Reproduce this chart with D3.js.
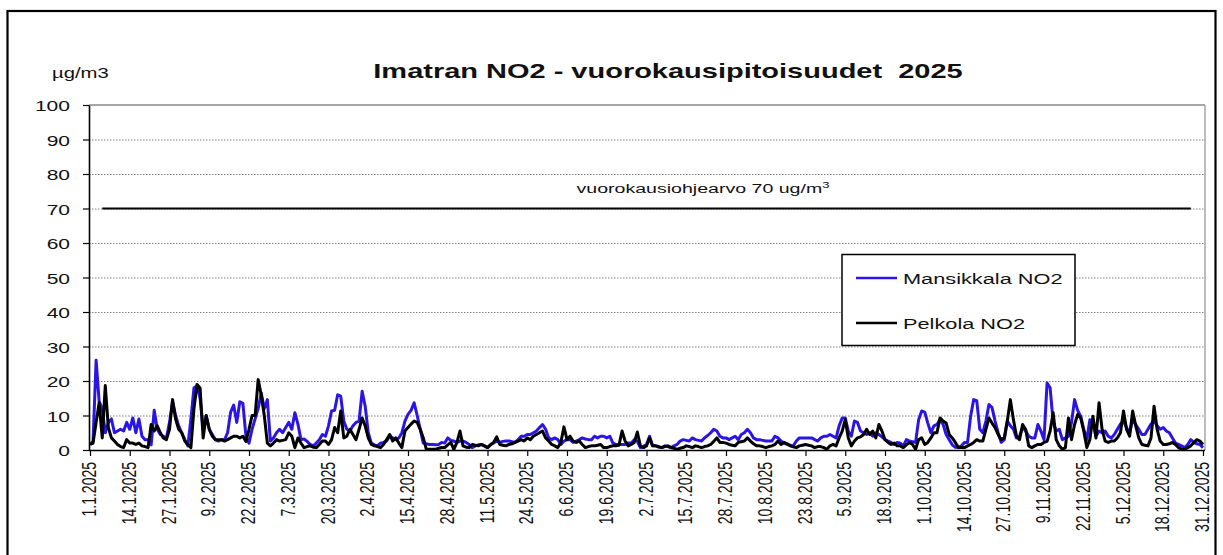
<!DOCTYPE html>
<html>
<head>
<meta charset="utf-8">
<script src="https://cdn.jsdelivr.net/npm/d3@7"></script>
<style>
  body { margin: 0; background: #fff; }
  svg { display: block; }
  text { font-family: "Liberation Sans", Arial, sans-serif; fill: #111; }
</style>
</head>
<body>
<svg id="chart" width="1223" height="555"></svg>
<script>
// daily means 1.1.2025 - 31.12.2025
const mansikkala = [
  1.6, 2.5, 26, 14, 12, 5, 8, 9, 5, 5.5,
  6, 5.5, 8, 6, 9.3, 5, 9, 4, 3, 3,
  1.5, 11.5, 6, 4.5, 4, 3.5, 8, 14, 10, 7,
  5, 3, 1.2, 9, 18, 18.5, 15, 6, 10, 6,
  4.5, 3, 2.6, 3, 3, 5, 11, 13, 8, 14,
  13.5, 4, 2, 6, 9, 12, 16.5, 12, 14.6, 2.6,
  3.5, 5, 6, 5, 6.5, 8, 6, 10.8, 7.5, 3,
  3.2, 2.5, 1.6, 1.2, 2, 3, 4.5, 4, 7, 11.3,
  11.5, 16, 15.6, 8.4, 6, 5.5, 7, 8, 8.4, 17,
  12.7, 5, 2, 1.5, 1.2, 2, 2.2, 2.6, 4, 3.5,
  3, 3.5, 5, 8.4, 10.3, 11.5, 13.7, 10, 6, 2,
  1.8, 1.6, 1.6, 1.5, 1.6, 2.2, 2, 3.5, 2.8, 2.6,
  2.2, 2.6, 2.6, 2.2, 1.6, 0.7, 1.2, 1.5, 1.6, 1.2,
  0.7, 1.6, 2, 2.6, 2.2, 2.5, 2.6, 2.6, 2.4, 2.2,
  3, 4, 4, 4.5, 4.5, 5, 5.5, 6.5, 7.4, 6,
  3.5, 3, 3.5, 3, 1.6, 2.6, 3, 3, 2.2, 2.6,
  3, 3.5, 3.2, 3, 3, 4, 3.5, 4, 4, 3.5,
  4, 2, 1.6, 1.6, 1.6, 1.6, 2, 2, 3, 2.5,
  0.7, 1, 1.6, 4, 1.2, 1.2, 0.8, 0.7, 1.2, 1,
  0.7, 1.2, 1.6, 2.6, 3, 2.8, 2.6, 3.5, 3, 2.8,
  2.6, 3.5, 4.2, 5, 6, 5.5, 4, 3.5, 3.5, 3,
  3.5, 4, 3, 4.5, 5, 6, 5, 3.5, 3, 3,
  2.8, 2.6, 2.6, 2.6, 4, 3.5, 2.6, 2, 1.6, 1.4,
  1.2, 2.6, 3.5, 3.5, 3.5, 3.5, 3.5, 3, 2.6, 3.5,
  4, 4, 4.5, 4, 3.5, 7, 9.3, 9.3, 5.5, 4,
  8.4, 8, 5.5, 5, 4.5, 5, 4, 5, 4.5, 3.8,
  3, 2.6, 2.2, 1.6, 2.2, 2, 1.2, 3, 2.6, 2.4,
  2.2, 8.8, 11.3, 11, 7.8, 5, 7, 7.4, 8.8, 7.4,
  4.5, 3, 1.5, 0.8, 0.7, 1.2, 2.2, 2.2, 9.8, 14.6,
  14.3, 6, 5, 8.4, 13.2, 12.3, 8.4, 5, 2.2, 3,
  8.4, 7, 6, 3.5, 4, 6.5, 5.5, 4, 3.5, 3.5,
  7.4, 5.5, 3, 19.4, 18, 8, 5.5, 6, 3, 3.5,
  4, 8, 14.6, 11.5, 9.8, 6, 3, 8.8, 7.8, 4,
  5.5, 5, 5.5, 4, 3.5, 4.5, 6, 7.5, 8.4, 6.5,
  5, 8.8, 7.4, 6, 4.5, 4.5, 6, 7.5, 8.4, 7,
  6, 6.5, 5.5, 5, 3.5, 2, 1.6, 1.2, 0.7, 1.6,
  3, 2.2, 1.8, 1.6, 0.7
]

const pelkola = [
  1.6, 2, 8, 13.7, 3.5, 18.7, 6.5, 3.5, 2.6, 1.6,
  1, 0.7, 3, 2, 2, 1.6, 2, 1.2, 1, 0.7,
  7.4, 5.5, 7, 5, 3.5, 3, 6, 14.6, 9, 6,
  5, 2.6, 1.6, 0.7, 12, 19, 18, 3.5, 10, 6,
  4, 3, 3, 3, 2.6, 3, 3.5, 4, 4, 3.5,
  4, 2.5, 6, 10, 10, 20.4, 16, 10, 2, 1.2,
  2, 3, 2.6, 2.8, 3, 5, 4, 0.7, 3.5, 2,
  0.7, 1, 1.2, 0.8, 0.7, 1.6, 2.6, 2.6, 1.6, 3,
  6.5, 5, 11.3, 3.5, 4, 6, 4.5, 3, 6, 9.3,
  7, 3.5, 1.6, 1.2, 1, 0.7, 1.6, 3, 4.5, 2.6,
  3.5, 2, 0.7, 5.5, 6.5, 7.5, 8.4, 8, 6, 3.5,
  0.2, 0.2, 0.2, 0.2, 0.5, 0.7, 0.7, 1.5, 2.2, 0.2,
  2.2, 5.5, 1.2, 0.8, 0.7, 1.6, 1.4, 1.2, 1.6, 1.2,
  0.7, 1.5, 2.2, 3.8, 1.6, 1.4, 1.2, 1.6, 1.8, 2.2,
  2.6, 3, 2.6, 3.5, 3, 4, 4.5, 5, 5.5, 3.5,
  2.6, 1.6, 1.2, 0.7, 2.2, 6.7, 3, 4, 2.6, 2.2,
  2.6, 1.6, 0.7, 1, 1.2, 1.2, 1.4, 1.6, 0.7, 0.7,
  1, 1.2, 1.2, 1.4, 5.5, 2.6, 1.2, 1.6, 2.2, 5.2,
  1.2, 0.7, 1.2, 3.5, 1.2, 1.2, 1, 0.7, 1, 1.2,
  0.7, 0.5, 0.2, 0.5, 0.7, 1.2, 1, 0.7, 1.2, 1,
  0.7, 1, 1.2, 1.6, 2.5, 3.5, 2.2, 2.2, 2, 1.6,
  1.4, 1.2, 2.2, 2.4, 2.6, 3.5, 2.6, 1.8, 1.2, 1.2,
  1, 0.7, 1, 1.2, 1.6, 2.6, 1.6, 2.2, 1.8, 1.2,
  0.9, 0.7, 1.2, 1.4, 1.6, 1.4, 1.2, 0.7, 1, 1,
  0.7, 0.2, 1.2, 1.6, 1.2, 3.5, 5.5, 8.8, 3.5, 1.2,
  2.6, 3.5, 3.8, 4.5, 6, 4.5, 5.5, 3.5, 7.4, 5.5,
  3, 2.2, 1.6, 2, 1.2, 1.2, 0.7, 1.5, 2.2, 1.6,
  0.2, 3, 3.5, 1.6, 2.2, 3.5, 5, 5, 9.3, 8.4,
  7.8, 4.5, 3.5, 2.2, 0.7, 0.7, 0.7, 1.2, 1.6, 2.2,
  3, 2.6, 2.6, 6, 9.3, 7.8, 6.5, 4.5, 3, 3.5,
  8.4, 14.6, 8.8, 4, 3, 7.4, 6, 1.2, 0.7, 1.2,
  1.6, 1.6, 2.2, 2.5, 5.5, 10.8, 3, 1.2, 0.2, 0.7,
  9.3, 3, 7.4, 10.3, 9.3, 5.5, 0.7, 3, 9.8, 3.5,
  13.7, 6, 2.6, 2.2, 2.6, 2.6, 3.5, 5, 11.3, 6,
  4, 11.3, 7, 3.5, 1.6, 1.4, 1.2, 3.5, 12.7, 6,
  2.6, 1.6, 1.6, 1.8, 2.2, 1.6, 0.7, 0.2, 0.2, 0.7,
  1.2, 2.2, 3, 2.6, 1.6
]

const tickLabels = [
  "1.1.2025", "14.1.2025", "27.1.2025", "9.2.2025", "22.2.2025", "7.3.2025",
  "20.3.2025", "2.4.2025", "15.4.2025", "28.4.2025", "11.5.2025", "24.5.2025",
  "6.6.2025", "19.6.2025", "2.7.2025", "15.7.2025", "28.7.2025", "10.8.2025",
  "23.8.2025", "5.9.2025", "18.9.2025", "1.10.2025", "14.10.2025", "27.10.2025",
  "9.11.2025", "22.11.2025", "5.12.2025", "18.12.2025", "31.12.2025"
]

const yTicks = [0, 10, 20, 30, 40, 50, 60, 70, 80, 90, 100]

const limitValue = 70
const limitRange = ["5.1.2025", "27.12.2025"]

const seriesNames = ["Mansikkala NO2", "Pelkola NO2"]
const seriesColors = ["#2b14e6", "#000000"]

const parseDate = d3.timeParse("%d.%m.%Y")
const start = new Date(2025, 0, 1)
const days = d3.timeDay.range(start, new Date(2025, 11, 31 + 1))

// the original picture is stretched sideways, so is the text
const sx = 1.45

const svg = d3.select("#chart")

const plotLeft = 89, plotRight = 1205, plotTop = 105, plotBottom = 450

const x = d3.scaleTime()
  .domain([start, new Date(2025, 11, 31)])
  .range([90, 1203])

const y = d3.scaleLinear()
  .domain([0, 100])
  .range([plotBottom, plotTop])

// outer frame
svg.append("rect")
  .attr("x", 7.5).attr("y", 11)
  .attr("width", 1208).attr("height", 580)
  .attr("fill", "#fff")
  .attr("stroke", "#000")
  .attr("stroke-width", 2.2)

// grid
svg.append("g")
  .selectAll("line")
  .data(yTicks.filter((d) => d > 0 && d < 100))
  .enter()
  .append("line")
  .attr("x1", plotLeft).attr("x2", plotRight)
  .attr("y1", (d) => y(d) + 0.5).attr("y2", (d) => y(d) + 0.5)
  .attr("stroke", "#808080")
  .attr("stroke-width", 1)
  .attr("stroke-dasharray", "1.5,1.5")

svg.append("line")
  .attr("x1", plotLeft).attr("x2", plotRight)
  .attr("y1", y(100)).attr("y2", y(100))
  .attr("stroke", "#888").attr("stroke-width", 1.3)

svg.append("line")
  .attr("x1", plotRight).attr("x2", plotRight)
  .attr("y1", plotTop).attr("y2", plotBottom)
  .attr("stroke", "#999").attr("stroke-width", 1.3)

// limit line
svg.append("line")
  .attr("x1", x(parseDate(limitRange[0]))).attr("x2", x(parseDate(limitRange[1])))
  .attr("y1", y(limitValue)).attr("y2", y(limitValue))
  .attr("stroke", "#000").attr("stroke-width", 2)

const limitText = svg.append("text")
  .attr("transform", `translate(703,193) scale(${sx},1)`)
  .attr("text-anchor", "middle")
  .style("font-size", "13.5px")
limitText.append("tspan").text("vuorokausiohjearvo 70 ug/m")
limitText.append("tspan").attr("dy", -5).style("font-size", "9px").text("3")

// series
const line = d3.line()
  .x((d, i) => x(days[i]))
  .y((d) => y(d))

const series = [mansikkala, pelkola]

svg.append("g")
  .selectAll("path")
  .data(series)
  .enter()
  .append("path")
  .attr("d", line)
  .attr("fill", "none")
  .attr("stroke", (d, i) => seriesColors[i])
  .attr("stroke-width", 3)
  .attr("stroke-linejoin", "round")

// y axis
const yAxis = svg.append("g")
  .attr("transform", `translate(${plotLeft},0)`)
  .call(d3.axisLeft(y).tickValues(yTicks).tickSize(6).tickSizeOuter(0))

yAxis.select(".domain").attr("stroke", "#000").attr("stroke-width", 1.6)
yAxis.selectAll(".tick line").attr("stroke", "#000").attr("stroke-width", 1.2)
yAxis.selectAll(".tick text")
  .attr("x", null).attr("dy", null)
  .attr("transform", `translate(-19,5.5) scale(${sx},1)`)
  .style("font-size", "14.5px")
  .attr("fill", "#111")

// x axis
const tickDates = tickLabels.map(parseDate)

const xAxis = svg.append("g")
  .attr("transform", `translate(0,${plotBottom})`)
  .call(d3.axisBottom(x).tickValues(tickDates).tickSize(6).tickSizeOuter(0)
    .tickFormat((d, i) => tickLabels[i]))

xAxis.select(".domain").attr("stroke", "#000").attr("stroke-width", 1.6)
  .attr("d", `M${plotLeft},0.5H${plotRight}`)
xAxis.selectAll(".tick line").attr("stroke", "#000").attr("stroke-width", 1.2)
xAxis.selectAll(".tick text")
  .attr("y", null).attr("dy", null)
  .attr("text-anchor", "end")
  .attr("transform", `translate(5.5,12) scale(${sx},1) rotate(-90)`)
  .style("font-size", "14px")
  .attr("fill", "#111")

// titles
svg.append("text")
  .attr("transform", `translate(668,78) scale(${sx},1)`)
  .attr("text-anchor", "middle")
  .style("font-size", "20px")
  .style("font-weight", "bold")
  .text("Imatran NO2 - vuorokausipitoisuudet\u00a0\u00a02025")

svg.append("text")
  .attr("transform", `translate(52,78) scale(${sx},1)`)
  .style("font-size", "14px")
  .text("\u00b5g/m3")

// legend
const legend = svg.append("g")

legend.append("rect")
  .attr("x", 842).attr("y", 254.5)
  .attr("width", 233).attr("height", 91)
  .attr("fill", "#fff")
  .attr("stroke", "#000")
  .attr("stroke-width", 1.5)

const legendRows = legend.selectAll(".row")
  .data(seriesNames)
  .enter()
  .append("g")
  .attr("class", "row")
  .attr("transform", (d, i) => `translate(0,${278 + i * 45})`)

legendRows.append("line")
  .attr("x1", 856).attr("x2", 897)
  .attr("stroke", (d, i) => seriesColors[i])
  .attr("stroke-width", 2.4)

legendRows.append("text")
  .attr("transform", `translate(903,5.5) scale(${sx},1)`)
  .style("font-size", "15px")
  .attr("fill", "#222")
  .text((d) => d)
</script>
</body>
</html>
